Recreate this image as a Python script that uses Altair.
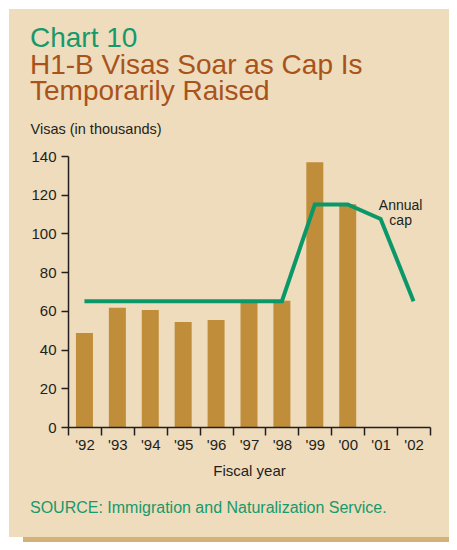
import altair as alt
import pandas as pd

# ---- data ----
years = ["'92", "'93", "'94", "'95", "'96", "'97", "'98", "'99", "'00", "'01", "'02"]
visas = [48.6, 61.6, 60.5, 54.2, 55.3, 64.8, 65.2, 136.8, 115.1, None, None]
cap = [65, 65, 65, 65, 65, 65, 65, 115, 115, 107.5, 65]
cap_label_year = ["'01"]
cap_label_value = [112]
cap_label_text = ["Annual\ncap"]
chart_number = "Chart 10"
headline = ["H1-B Visas Soar as Cap Is", "Temporarily Raised"]
source_text = "SOURCE: Immigration and Naturalization Service."

# ---- styles ----
PANEL = "#eedcbd"
SHADOW = "#d5b17a"
BAR = "#c08d3a"
LINE = "#0b9868"
GREEN_TXT = "#16996b"
BROWN_TXT = "#a9531a"
DARK = "#231f20"
FONT = "Liberation Sans"

df = pd.DataFrame({"year": years, "visas": visas, "cap": cap})
ann = pd.DataFrame({"year": cap_label_year, "value": cap_label_value, "label": cap_label_text})

x_axis = alt.Axis(
    title="Fiscal year", labelAngle=0, tickBand="extent", tickSize=8,
    labelFontSize=15, labelFont=FONT, labelColor=DARK, labelPadding=2,
    titleFontSize=15, titleFont=FONT, titleColor=DARK, titleFontWeight="normal",
    titlePadding=11, domainColor=DARK, tickColor=DARK, domainWidth=1.5,
    tickWidth=1.5, zindex=2,
)
y_axis = alt.Axis(
    title="Visas (in thousands)", values=list(range(0, 141, 20)), grid=False,
    tickSize=7, labelPadding=5, labelFontSize=15, labelFont=FONT, labelColor=DARK,
    titleFontSize=14.5, titleFont=FONT, titleColor=DARK, titleFontWeight="normal",
    titleAngle=0, titleAlign="left", titleBaseline="alphabetic", titleX=-38, titleY=-23,
    domainColor=DARK, tickColor=DARK, domainWidth=1.5, tickWidth=1.5, zindex=2,
)

x_enc = alt.X("year:N", sort=years, scale=alt.Scale(paddingInner=0, paddingOuter=0), axis=x_axis)
y_scale = alt.Scale(domain=[0, 140])

one = alt.Data(values=[{"a": 1}])

shadow = alt.Chart(one).mark_rect(color=SHADOW).encode(
    x=alt.value(-45), x2=alt.value(395), y=alt.value(-132), y2=alt.value(400)
)
panel = alt.Chart(one).mark_rect(color=PANEL).encode(
    x=alt.value(-59), x2=alt.value(387), y=alt.value(-147), y2=alt.value(381)
)

bars = alt.Chart(df).mark_bar(color=BAR, size=17).encode(
    x=x_enc, y=alt.Y("visas:Q", scale=y_scale, axis=y_axis)
)
line = alt.Chart(df).mark_line(color=LINE, strokeWidth=4).encode(
    x=x_enc, y=alt.Y("cap:Q", scale=y_scale, axis=y_axis)
)
label = alt.Chart(ann).mark_text(
    font=FONT, fontSize=14, color=DARK, lineBreak="\n", lineHeight=15,
    align="center", baseline="alphabetic", dx=20,
).encode(x=x_enc, y=alt.Y("value:Q", scale=y_scale, axis=y_axis), text="label:N")

title1 = alt.Chart(one).mark_text(
    font=FONT, fontSize=28, color=GREEN_TXT, align="left", baseline="alphabetic"
).encode(x=alt.value(-38), y=alt.value(-109), text=alt.value(chart_number))
title2 = alt.Chart(one).mark_text(
    font=FONT, fontSize=28, color=BROWN_TXT, align="left", baseline="alphabetic"
).encode(x=alt.value(-38), y=alt.value(-82), text=alt.value(headline[0]))
title3 = alt.Chart(one).mark_text(
    font=FONT, fontSize=28, color=BROWN_TXT, align="left", baseline="alphabetic"
).encode(x=alt.value(-38), y=alt.value(-56), text=alt.value(headline[1]))

source = alt.Chart(one).mark_text(
    font=FONT, fontSize=16, color=GREEN_TXT, align="left", baseline="alphabetic"
).encode(x=alt.value(-38), y=alt.value(357), text=alt.value(source_text))

chart = alt.layer(shadow, panel, bars, line, label, title1, title2, title3, source).properties(
    width=362, height=271,
    autosize=alt.AutoSizeParams(type="none"),
    padding={"left": 60, "top": 148, "right": 19, "bottom": 115},
    background="white",
).configure_view(stroke=None)

chart.save("out.html", embed_options={"renderer": "svg", "actions": False})
